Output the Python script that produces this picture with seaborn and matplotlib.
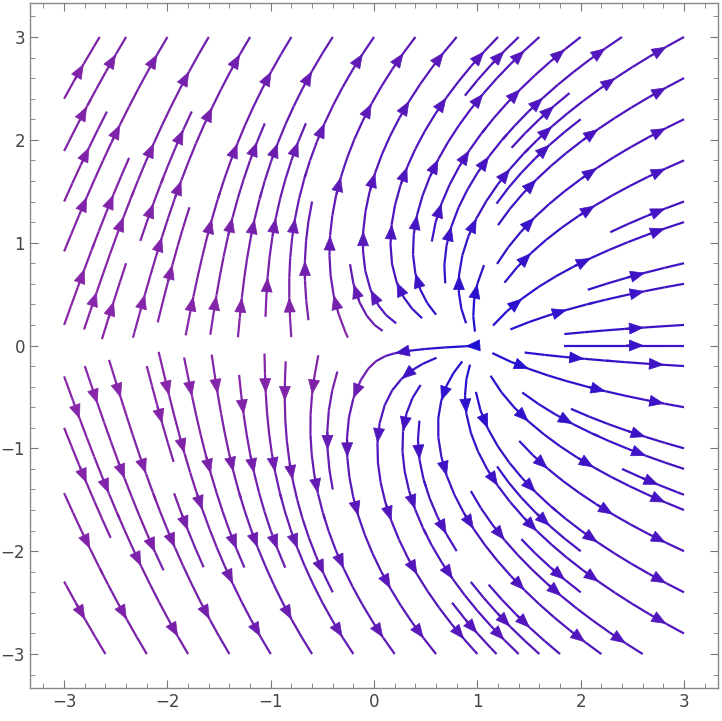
import numpy as np
import matplotlib
matplotlib.use("Agg")
import matplotlib.pyplot as plt
import seaborn as sns
from matplotlib.colors import LinearSegmentedColormap, Normalize
from matplotlib.patches import FancyArrowPatch, ArrowStyle

# stream field: (Re Log z, Im Log z), sampled on [-3, 3] x [-3, 3]
field_range = [-3.0, 3.0]
x_range = [-3.33, 3.33]
y_range = [-3.33, 3.33]
tick_values = [-3, -2, -1, 0, 1, 2, 3]
tick_labels = ["\u22123", "\u22122", "\u22121", "0", "1", "2", "3"]
stream_colors = ["#1c10d2", "#4a14c0", "#7c22a8", "#9a2cac"]

sns.set_style("white")
plt.rcParams['font.family'] = ['DejaVu Sans']

xs = np.linspace(field_range[0], field_range[1], 300)
ys = np.linspace(field_range[0], field_range[1], 300)
X, Y = np.meshgrid(xs, ys)
Z = X + 1j * Y
U = np.log(np.abs(Z))
V = np.angle(Z)
# branch cut along the negative real axis
cut = (X < 0) & (np.abs(Y) < 0.04)
U[cut] = np.nan
V[cut] = np.nan
speed = np.hypot(U, V)

cmap = LinearSegmentedColormap.from_list("stream", stream_colors)

fig = plt.figure(figsize=(7.22, 7.21), dpi=100)
ax = fig.add_axes([0.0416, 0.0458, 0.953, 0.950])
sp = ax.streamplot(X, Y, U, V, color=speed, cmap=cmap, norm=Normalize(0, 4),
                   density=1.05, linewidth=1.6, arrowstyle="-", arrowsize=0.1,
                   broken_streamlines=True)

# put arrowheads along each streamline, Mathematica style
segs = sp.lines.get_segments()
cols = sp.lines.to_rgba(sp.lines.get_array())
groups = []
for seg, col in zip(segs, cols):
    if groups and np.allclose(groups[-1][0][-1], seg[0]):
        groups[-1][0].append(seg[1])
        groups[-1][1].append(col)
    else:
        groups.append([[seg[0], seg[1]], [col]])

head = ArrowStyle("-|>", head_length=0.9, head_width=0.36)
spacing = 0.62
for pts, cs in groups:
    pts = np.array(pts)
    d = np.hypot(*np.diff(pts, axis=0).T)
    s = np.concatenate([[0], np.cumsum(d)])
    total = s[-1]
    if total < 0.25:
        continue
    n = max(1, int(total / spacing))
    marks = (np.arange(n) + 0.5) * total / n
    for m in marks:
        i = min(np.searchsorted(s, m), len(pts) - 1)
        i = max(i, 1)
        p2 = pts[i]
        p1 = pts[i - 1]
        if np.allclose(p1, p2):
            continue
        ax.add_patch(FancyArrowPatch(p1, p2, arrowstyle=head, mutation_scale=11,
                                     color=cs[min(i - 1, len(cs) - 1)], lw=0.5,
                                     shrinkA=0, shrinkB=0, zorder=3))

ax.set_xlim(*x_range)
ax.set_ylim(*y_range)
ax.set_xticks(tick_values)
ax.set_xticklabels(tick_labels)
ax.set_yticks(tick_values)
ax.set_yticklabels(tick_labels)
ax.set_xticks(np.arange(-3.2, 3.3, 0.2), minor=True)
ax.set_yticks(np.arange(-3.2, 3.3, 0.2), minor=True)
ax.tick_params(which="both", direction="in", colors="#777777", labelcolor="#444444",
               labelsize=12, top=True, right=True, bottom=True, left=True,
               labeltop=False, labelright=False)
ax.tick_params(which="major", length=6, width=0.8)
ax.tick_params(which="minor", length=3.5, width=0.6)
for s in ax.spines.values():
    s.set_color("#888888")
    s.set_linewidth(1.0)

fig.savefig("out.png", dpi=100)
